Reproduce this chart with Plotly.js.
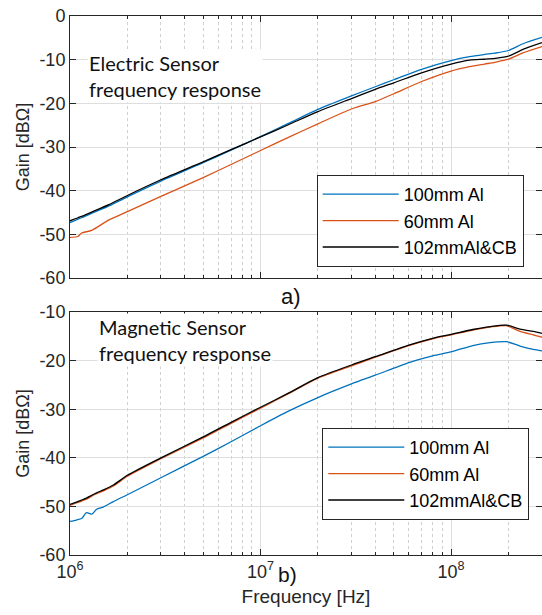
<!DOCTYPE html>
<html>
<head>
<meta charset="utf-8">
<script src="https://cdn.plot.ly/plotly-3.0.1.min.js"></script>
<style>html,body{margin:0;padding:0;background:#fff;}#chart{width:542px;height:615px;}</style>
</head>
<body>
<div id="chart"></div>
<script>
// ---- Data ----
const seriesNames = ["100mm Al", "60mm Al", "102mmAl&CB"];

// a) Electric sensor
const freqE = [1e6, 1.1e6, 1.15e6, 1.3e6, 1.6e6, 2e6, 3e6, 5e6, 7e6, 1e7, 1.4e7, 2e7, 3e7, 4e7, 5e7, 7e7, 1e8, 1.25e8, 1.5e8, 1.7e8, 2e8, 2.4e8, 3e8];
const elec100 = [-47.3, -46.5, -46.2, -45.2, -43.5, -41.4, -37.8, -33.6, -30.7, -27.6, -24.6, -21.4, -18.3, -16.2, -14.6, -12.2, -10.2, -9.3, -8.8, -8.5, -7.9, -6.3, -4.9];
const elec60 = [-50.7, -50.5, -49.7, -49.1, -46.7, -44.8, -41.3, -37.0, -34.0, -30.8, -27.8, -24.7, -21.3, -19.6, -17.8, -15.0, -12.6, -11.6, -11.0, -10.6, -9.9, -8.4, -7.0];
const elec102 = [-46.9, -46.2, -45.9, -44.9, -43.2, -41.1, -37.5, -33.4, -30.6, -27.7, -24.9, -21.9, -18.9, -16.8, -15.3, -13.0, -11.0, -10.1, -9.9, -9.7, -9.2, -7.6, -6.1];

// b) Magnetic sensor
const freqM = [1e6, 1.08e6, 1.15e6, 1.22e6, 1.3e6, 1.38e6, 1.5e6, 1.69e6, 2e6, 3e6, 5e6, 7e6, 1e7, 1.4e7, 2e7, 3e7, 4e7, 6e7, 8e7, 1e8, 1.3e8, 1.6e8, 1.95e8, 2.3e8, 2.7e8, 3e8];
const mag100 = [-53.1, -52.8, -52.5, -51.3, -51.6, -50.6, -50.1, -49.0, -47.6, -44.1, -39.7, -36.7, -33.4, -30.4, -27.6, -24.8, -23.0, -20.4, -19.0, -18.2, -16.9, -16.3, -16.1, -17.0, -17.7, -18.0];
const mag60 = [-49.8, -49.3, -48.9, -48.5, -47.9, -47.4, -46.8, -45.8, -43.8, -40.2, -35.9, -32.9, -29.8, -26.8, -23.6, -21.1, -19.3, -16.9, -15.5, -14.7, -13.7, -13.1, -12.8, -14.0, -14.7, -15.2];
const mag102 = [-49.6, -49.1, -48.7, -48.3, -47.7, -47.2, -46.6, -45.6, -43.6, -40.0, -35.7, -32.7, -29.6, -26.7, -23.5, -20.9, -19.2, -16.8, -15.4, -14.6, -13.6, -13.0, -12.7, -13.5, -14.0, -14.4];

const majorTicks = [1e6, 1e7, 1e8];
const majorTickText = ["10<sup>6</sup>", "10<sup>7</sup>", "10<sup>8</sup>"];
const minorTicks = [2e6,3e6,4e6,5e6,6e6,7e6,8e6,9e6,2e7,3e7,4e7,5e7,6e7,7e7,8e7,9e7,2e8,3e8];
const yTicksTop = [-60, -50, -40, -30, -20, -10, 0];
const yTickTextTop = ["-60", "-50", "-40", "-30", "-20", "-10", "0"];
const yTicksBottom = [-60, -50, -40, -30, -20, -10];
const yTickTextBottom = ["-60", "-50", "-40", "-30", "-20", "-10"];

const colors = ["#0072BD", "#D95319", "#000000"];

// ---- Traces ----
const traces = [];
[elec100, elec60, elec102].forEach((ys, i) => traces.push({
  x: freqE, y: ys, type: "scatter", mode: "lines", name: seriesNames[i],
  line: {color: colors[i], width: 1.3, shape: "spline", smoothing: 0.7},
  xaxis: "x", yaxis: "y", legend: "legend"
}));
[mag100, mag60, mag102].forEach((ys, i) => traces.push({
  x: freqM, y: ys, type: "scatter", mode: "lines", name: seriesNames[i],
  line: {color: colors[i], width: 1.3, shape: "spline", smoothing: 0.7},
  xaxis: "x2", yaxis: "y2", legend: "legend2"
}));

const axisColor = "#262626";
const sans = "Liberation Sans, Arial, sans-serif";
const tickFont = {family: sans, size: 18, color: axisColor};

function xAxis(anchor, labels) {
  return {
    type: "log", range: [6, Math.log10(3e8)], domain: [0, 1], anchor: anchor,
    tickmode: "array", tickvals: majorTicks, ticktext: majorTickText,
    showticklabels: labels, tickfont: tickFont,
    ticks: "inside", ticklen: 6, tickcolor: axisColor, tickwidth: 1,
    showline: true, mirror: "ticks", linecolor: axisColor, linewidth: 1,
    showgrid: true, gridcolor: "#dedede", gridwidth: 1, zeroline: false,
    minor: {tickmode: "array", tickvals: minorTicks, ticks: "inside", ticklen: 3,
            tickcolor: axisColor, showgrid: true, gridcolor: "#cfcfcf", griddash: "dot", gridwidth: 1}
  };
}
function yAxis(anchor, domain, range, tv, tt) {
  return {
    domain: domain, range: range, anchor: anchor,
    tickmode: "array", tickvals: tv, ticktext: tt,
    tickfont: tickFont, ticks: "inside", ticklen: 6, tickcolor: axisColor,
    showline: true, mirror: "ticks", linecolor: axisColor, linewidth: 1,
    showgrid: true, gridcolor: "#dedede", zeroline: false,
    title: {text: "Gain [dBΩ]", font: {family: sans, size: 18, color: axisColor}, standoff: 5}
  };
}

const xa2 = xAxis("y2", true);
xa2.title = {text: "Frequency [Hz]", font: {family: sans, size: 19, color: axisColor}, standoff: 9};

const legendBase = {
  bgcolor: "#ffffff", bordercolor: axisColor, borderwidth: 1,
  font: {family: sans, size: 18, color: "#000"},
  xanchor: "left", yanchor: "top", itemwidth: 76, tracegroupgap: 0
};

const noteFont = {family: "Lato, sans-serif", size: 20, color: "#111"};

const layout = {
  width: 542, height: 615,
  margin: {l: 70, r: 0, t: 16, b: 60},
  paper_bgcolor: "#fff", plot_bgcolor: "#fff",
  showlegend: true,
  xaxis: xAxis("y", false),
  yaxis: yAxis("x", [0.5139, 1], [-60, 0], yTicksTop, yTickTextTop),
  xaxis2: xa2,
  yaxis2: yAxis("x2", [0, 0.4508], [-60, -10], yTicksBottom, yTickTextBottom),
  legend: Object.assign({}, legendBase, {x: 0.5227, y: 0.705}),
  legend2: Object.assign({}, legendBase, {x: 0.5345, y: 0.2356}),
  annotations: [
    {text: "Electric Sensor<br>frequency response", xref: "x domain", yref: "y domain",
     x: 0.035, y: 0.772, xanchor: "left", yanchor: "middle", align: "left",
     showarrow: false, bgcolor: "#fff", font: noteFont},
    {text: "Magnetic Sensor<br>frequency response", xref: "x2 domain", yref: "y2 domain",
     x: 0.058, y: 0.885, xanchor: "left", yanchor: "middle", align: "left",
     showarrow: false, bgcolor: "#fff", font: noteFont},
    {text: "a)", xref: "paper", yref: "paper", x: 0.468, y: 0.4787, xanchor: "center", yanchor: "middle",
     showarrow: false, font: {family: sans, size: 22, color: "#111"}},
    {text: "b)", xref: "paper", yref: "paper", x: 0.46, y: -0.036, xanchor: "center", yanchor: "middle",
     showarrow: false, font: {family: sans, size: 21, color: "#111"}}
  ]
};

Plotly.newPlot("chart", traces, layout, {displayModeBar: false, staticPlot: true});
</script>
</body>
</html>
